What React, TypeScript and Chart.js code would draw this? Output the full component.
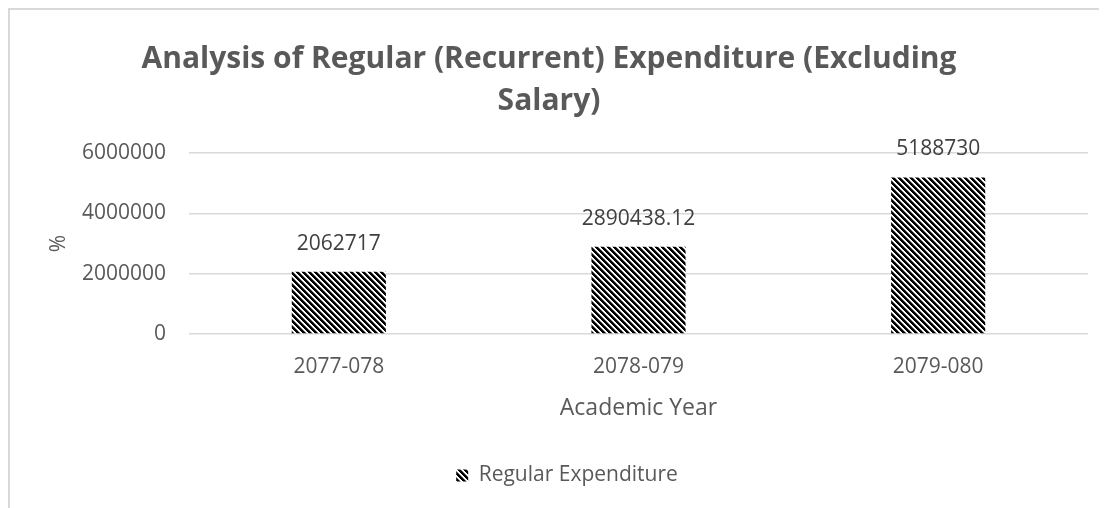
import React, { useEffect, useRef } from "react";
import { Chart, registerables } from "chart.js";

Chart.register(...registerables);

const categories = ["2077-078", "2078-079", "2079-080"];
const values = [2062717, 2890438.12, 5188730];
const valueLabels = ["2062717", "2890438.12", "5188730"];
const yMin = 0;
const yMax = 6000000;
const yStep = 2000000;
const seriesName = "Regular Expenditure";
const titleLines = ["Analysis of Regular (Recurrent) Expenditure (Excluding", "Salary)"];
const xTitle = "Academic Year";
const yTitle = "%";

const FONT = "'Open Sans', 'Noto Sans', sans-serif";

function makePattern(): CanvasPattern | string {
  const c = document.createElement("canvas");
  const p = 6;
  c.width = p;
  c.height = p;
  const g = c.getContext("2d");
  if (!g) return "#000";
  g.fillStyle = "#ffffff";
  g.fillRect(0, 0, p, p);
  for (let y = 0; y < p; y++) {
    for (let x = 0; x < p; x++) {
      const d = (((x - y) % p) + p) % p;
      if (d < 3) {
        g.fillStyle = "#000000";
        g.fillRect(x, y, 1, 1);
      } else if (d === 3) {
        g.fillStyle = "#7a7a7a";
        g.fillRect(x, y, 1, 1);
      }
    }
  }
  const pat = g.createPattern(c, "repeat");
  return pat || "#000";
}

const valueLabelPlugin = {
  id: "valueLabels",
  afterDatasetsDraw(chart: any) {
    const { ctx } = chart;
    const meta = chart.getDatasetMeta(0);
    ctx.save();
    ctx.font = `21px ${FONT}`;
    ctx.fillStyle = "#404040";
    ctx.textAlign = "center";
    ctx.textBaseline = "middle";
    meta.data.forEach((el: any, i: number) => {
      ctx.fillText(valueLabels[i], el.x, el.y - 28);
    });
    ctx.restore();
  },
};

const legendShiftPlugin = {
  id: "legendShift",
  afterLayout(chart: any) {
    const l = chart.legend;
    if (l) {
      l.left += 18;
      l.right += 18;
    }
  },
};

export default function App() {
  const ref = useRef<HTMLCanvasElement | null>(null);

  useEffect(() => {
    document.documentElement.style.overflow = "hidden";
    document.body.style.overflow = "hidden";
    const canvas = ref.current;
    if (!canvas) return;
    const pattern = makePattern();
    const chart = new Chart(canvas, {
      type: "bar",
      data: {
        labels: categories,
        datasets: [
          {
            label: seriesName,
            data: values,
            backgroundColor: pattern as any,
            borderWidth: 0,
            barPercentage: 0.314,
            categoryPercentage: 1,
          },
        ],
      },
      plugins: [valueLabelPlugin, legendShiftPlugin],
      options: {
        responsive: false,
        animation: false,
        maintainAspectRatio: false,
        layout: { padding: { left: 0, right: 19, top: 0, bottom: 12 } },
        plugins: {
          tooltip: { enabled: false },
          title: {
            display: true,
            text: titleLines,
            color: "#595959",
            font: { family: FONT, size: 30, weight: "bold", lineHeight: 1.4 },
            padding: { top: 28, bottom: 31 },
          },
          legend: {
            position: "bottom",
            labels: {
              color: "#595959",
              font: { family: FONT, size: 21 },
              boxWidth: 12,
              boxHeight: 12,
              padding: 10,
            },
          },
        },
        scales: {
          x: {
            grid: { display: false, drawTicks: false },
            border: { display: false },
            ticks: { color: "#595959", font: { family: FONT, size: 21 }, padding: 20 },
            title: {
              display: true,
              text: xTitle,
              color: "#595959",
              font: { family: FONT, size: 23 },
              padding: { top: 0, bottom: 33 },
            },
            afterFit: (s: any) => {
              s.height = 121;
            },
          },
          y: {
            min: yMin,
            max: yMax,
            grid: { color: "#d9d9d9", lineWidth: 1.5, drawTicks: false },
            border: { display: false },
            ticks: {
              stepSize: yStep,
              color: "#595959",
              font: { family: FONT, size: 21 },
              padding: 23,
              callback: (v: any) => String(v),
            },
            title: {
              display: true,
              text: yTitle,
              color: "#595959",
              font: { family: FONT, size: 21 },
              padding: { top: 36, bottom: 0 },
            },
            afterFit: (s: any) => {
              s.width = 179;
            },
          },
        },
      },
    });
    return () => chart.destroy();
  }, []);

  return (
    <div
      style={{
        width: 1097,
        height: 498,
        borderLeft: "2px solid #d9d9d9",
        borderTop: "2px solid #d9d9d9",
        background: "#fff",
      }}
    >
      <canvas ref={ref} width={1097} height={498} style={{ display: "block", width: 1097, height: 498 }} />
    </div>
  );
}
